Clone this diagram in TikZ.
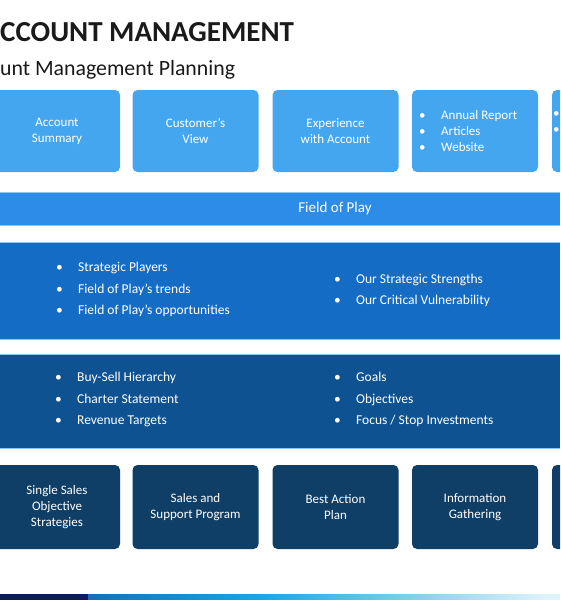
\documentclass[tikz,border=0pt]{standalone}
\usepackage{fontspec}
\setmainfont{Carlito}
\definecolor{topblue}{HTML}{45A6F0}
\definecolor{fieldblue}{HTML}{2D8CE8}
\definecolor{blockone}{HTML}{156CC4}
\definecolor{blocktwo}{HTML}{0E5292}
\definecolor{navybox}{HTML}{0F3E66}
\definecolor{edgeblue}{HTML}{8CC8F5}
\definecolor{titleink}{HTML}{1A1A1A}
\definecolor{barnavy}{HTML}{0B1D5A}
\definecolor{barblue}{HTML}{1670B4}
\definecolor{barcyan}{HTML}{1AA6E0}
\definecolor{barlight}{HTML}{DDF3FB}
\newcommand\myboxfont{\fontsize{13}{16}\selectfont}
\newcommand\mylistfont{\fontsize{13.5}{21.5}\selectfont}
\newcommand\mybul{\makebox[22pt][l]{\textbullet}}
\begin{document}
\begin{tikzpicture}[x=1pt,y=-1pt,
  topbox/.style={rectangle, rounded corners=5pt, fill=topblue, text=white,
    minimum width=126pt, minimum height=82pt, inner sep=0pt, align=center, font=\myboxfont},
  botbox/.style={rectangle, rounded corners=5pt, fill=navybox, text=white,
    minimum width=126pt, minimum height=84pt, inner sep=0pt, align=center, font=\myboxfont},
  band/.style={draw=edgeblue, line width=0.6pt},
  listtext/.style={anchor=west, inner sep=0pt, align=left, text=white, font=\mylistfont},
  boxlist/.style={anchor=west, inner sep=0pt, align=left, text=white, font=\myboxfont},
]
\clip (0,0) rectangle (560,600);
\fill[white] (0,0) rectangle (560,600);

% title
\node[anchor=base west, inner sep=0pt, text=titleink, font=\fontsize{29}{29}\selectfont\bfseries] (title) at (0,41) {CCOUNT MANAGEMENT};
\node[anchor=base west, inner sep=0pt, text=titleink, font=\fontsize{21.8}{22}\selectfont] (subtitle) at (0,75) {unt Management Planning};

% top boxes
\node[topbox] (t1) at (57,131) {Account\\Summary};
\node[topbox] (t2) at (195.5,131) {Customer's\\View};
\node[topbox] (t3) at (335.5,131) {Experience\\with Account};
\node[topbox] (t4) at (475,131) {};
\node[boxlist] (t4list) at (419,131) {\mybul Annual Report\\\mybul Articles\\\mybul Website};
\node[topbox] (t5) at (615,131) {};
\node[boxlist] (t5list) at (553,123) {\mybul\\\mybul};

% field of play band
\fill[fieldblue] (0,192) rectangle (560,225);
\draw[band] (0,192) -- (560,192) (0,225) -- (560,225);
\node[inner sep=0pt, text=white, font=\fontsize{15}{15}\selectfont] (field) at (335,208.5) {Field of Play};

% block one
\fill[blockone] (0,242) rectangle (560,339);
\draw[band] (0,242) -- (560,242) (0,339) -- (560,339);
\node[listtext] (b1left) at (56,289.5) {\mybul Strategic Players\\\mybul Field of Play's trends\\\mybul Field of Play's opportunities};
\node[listtext] (b1right) at (334,290.5) {\mybul Our Strategic Strengths\\\mybul Our Critical Vulnerability};

% block two
\fill[blocktwo] (0,354) rectangle (560,448);
\draw[band] (0,354) -- (560,354) (0,448) -- (560,448);
\node[listtext] (b2left) at (55,399.5) {\mybul Buy-Sell Hierarchy\\\mybul Charter Statement\\\mybul Revenue Targets};
\node[listtext] (b2right) at (334,399.5) {\mybul Goals\\\mybul Objectives\\\mybul Focus / Stop Investments};

% bottom boxes
\node[botbox] (d1) at (57,507) {Single Sales\\Objective\\Strategies};
\node[botbox] (d2) at (195.5,507) {Sales and\\Support Program};
\node[botbox] (d3) at (335.5,507) {Best Action\\Plan};
\node[botbox] (d4) at (475,507) {Information\\Gathering};
\node[botbox] (d5) at (615,507) {};

% bottom bar
\fill[barnavy] (0,594) rectangle (88,600);
\shade[left color=barblue, right color=barcyan] (88,594) rectangle (260,600);
\shade[left color=barcyan, right color=barlight] (260,594) rectangle (545,600);
\fill[barlight] (545,594) rectangle (560,600);
\end{tikzpicture}
\end{document}
